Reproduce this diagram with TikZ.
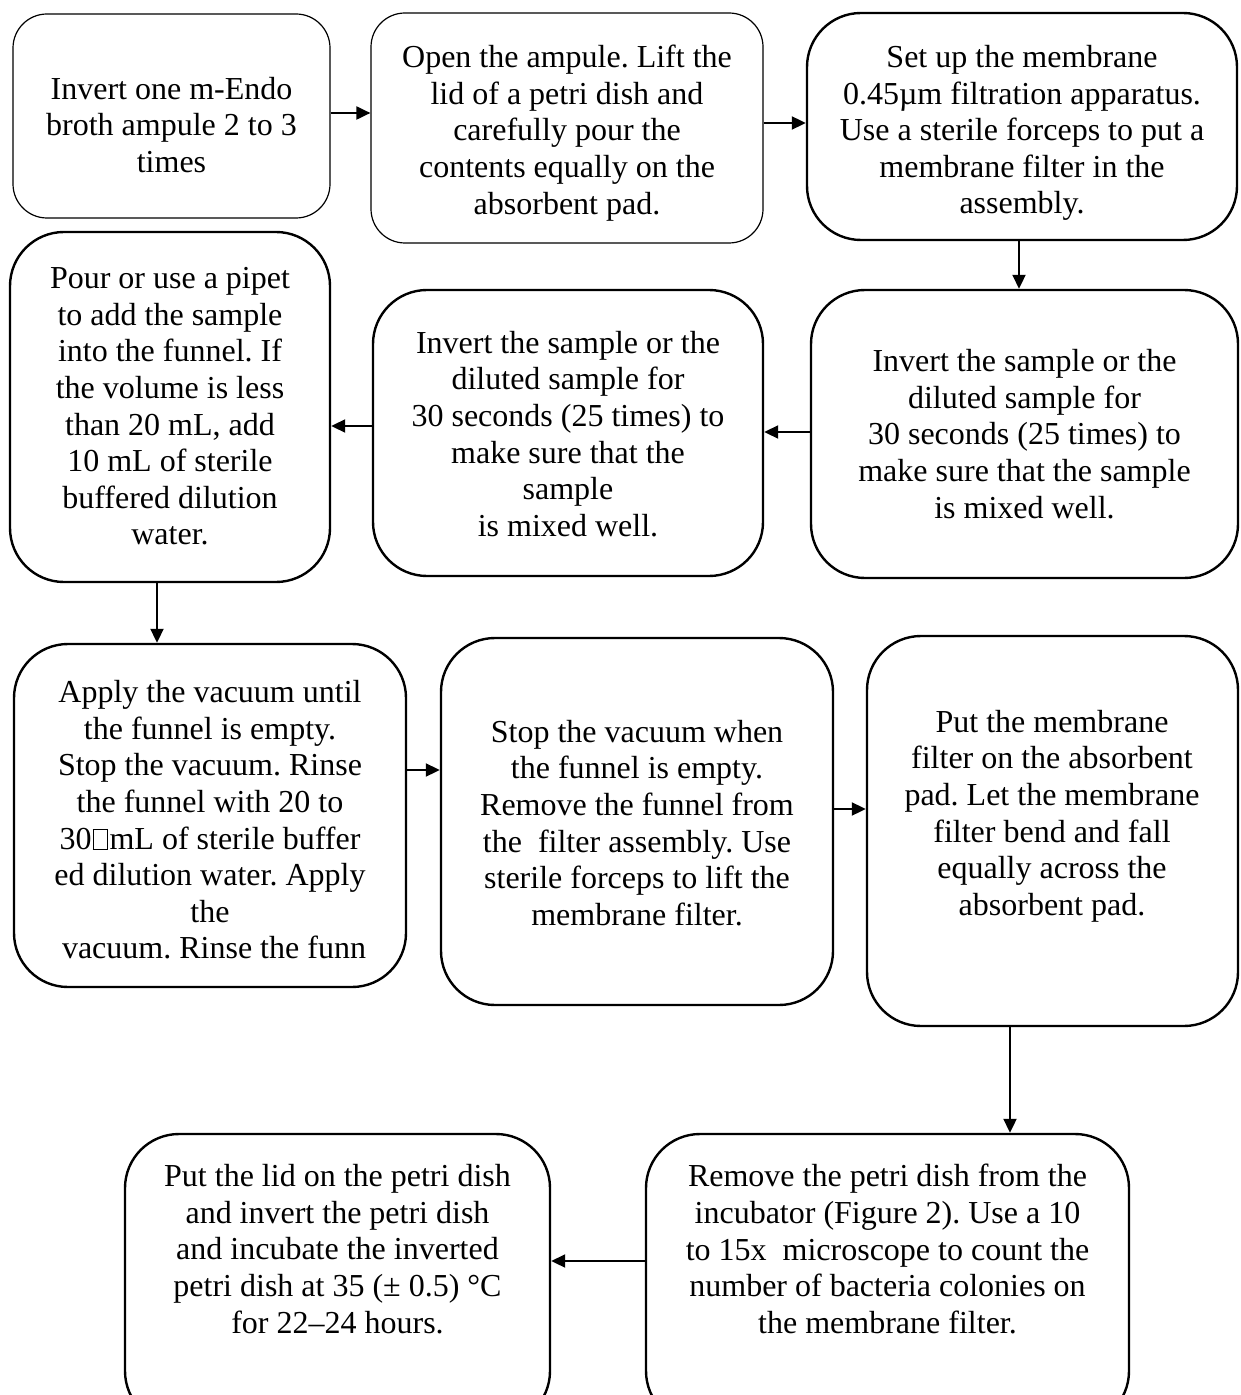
\documentclass[tikz,border=0pt]{standalone}
\usepackage{fontspec}
\setmainfont{Liberation Serif}
\usetikzlibrary{arrows.meta,fit}
\frenchspacing
\newcommand\gapbox{{\fboxsep=0pt\fboxrule=0.4pt\kern0.5pt\fbox{\rule{0pt}{0.62em}\hspace{0.42em}}\kern1pt}}
\begin{document}
\begin{tikzpicture}[x=0.5pt,y=-0.5pt,
  thinbox/.style={draw, line width=0.6pt, rounded corners=17pt, inner sep=0pt},
  thickbox/.style={draw, line width=1.2pt, rounded corners=27pt, inner sep=0pt},
  txt/.style={align=center, inner sep=0pt, font=\fontsize{16pt}{18.3pt}\selectfont\frenchspacing},
  arr/.style={line width=1pt, -{Triangle[length=7pt,width=6.5pt]}}]
\useasboundingbox (0,0) rectangle (1240,1395);

% boxes
\node[thinbox, fit={(13,14)(330,218)}] (A) {};
\node[thinbox, fit={(371,13)(763,243)}] (B) {};
\node[thickbox, fit={(807,13)(1237,240)}] (C) {};
\node[thickbox, fit={(811,290)(1238,578)}] (D) {};
\node[thickbox, fit={(373,290)(763,576)}] (E) {};
\node[thickbox, fit={(10,232)(330,582)}] (F) {};
\node[thickbox, fit={(14,644)(406,987)}] (G) {};
\node[thickbox, fit={(441,638)(833,1005)}] (H) {};
\node[thickbox, fit={(867,636)(1238,1026)}] (I) {};
\node[thickbox, fit={(646,1134)(1129,1425)}] (J) {};
\node[thickbox, fit={(125,1134)(550,1425)}] (K) {};

% texts
\node[txt] (tA) at (171.5,125) {Invert one m-Endo\\broth ampule 2 to 3\\times};
\node[txt] (tB) at (567,133) {Open the ampule. Lift the\\lid of a petri dish and\\carefully pour the\\contents equally on the\\absorbent pad.};
\node[txt] (tC) at (1022,133) {Set up the membrane\\0.45µm filtration apparatus.\\Use a sterile forceps to put a\\membrane filter in the\\assembly.};
\node[txt] (tD) at (1024.5,434) {Invert the sample or the\\diluted sample for\\30 seconds (25 times) to\\make sure that the sample\\is mixed well.};
\node[txt] (tE) at (568,434) {Invert the sample or the\\diluted sample for\\30 seconds (25 times) to\\make sure that the\\sample\\is mixed well.};
\node[txt] (tF) at (170,406.5) {Pour or use a pipet\\to add the sample\\into the funnel. If\\the volume is less\\than 20 mL, add\\10 mL of sterile\\buffered dilution\\water.};
\node[txt] (tG) at (210,820) {Apply the vacuum until\\the funnel is empty.\\Stop the vacuum. Rinse\\the funnel with 20 to\\30\gapbox mL of sterile buffer\\ed dilution water. Apply\\the\\\ vacuum. Rinse the funn};
\node[txt] (tH) at (637,823) {Stop the vacuum when\\the funnel is empty.\\Remove the funnel from\\the\ \ filter assembly. Use\\sterile forceps to lift the\\membrane filter.};
\node[txt] (tI) at (1052,816) {Put the membrane\\filter on the absorbent\\pad. Let the membrane\\filter bend and fall\\equally across the\\absorbent pad.};
\node[txt] (tJ) at (887.5,1249) {Remove the petri dish from the\\incubator (Figure 2). Use a 10\\to 15x\ \ microscope to count the\\number of bacteria colonies on\\the membrane filter.};
\node[txt] (tK) at (337.5,1249) {Put the lid on the petri dish\\and invert the petri dish\\and incubate the inverted\\petri dish at 35 (± 0.5) °C\\for 22–24 hours.};

% connectors
\draw[arr] (A.east |- 0,113) -- (B.west |- 0,113);
\draw[arr] (B.east |- 0,123) -- (C.west |- 0,123);
\draw[arr] (C.south -| 1019,0) -- (D.north -| 1019,0);
\draw[arr] (D.west |- 0,432) -- (E.east |- 0,432);
\draw[arr] (E.west |- 0,426) -- (F.east |- 0,426);
\draw[arr] (F.south -| 157,0) -- (G.north -| 157,0);
\draw[arr] (G.east |- 0,770) -- (H.west |- 0,770);
\draw[arr] (H.east |- 0,809) -- (I.west |- 0,809);
\draw[arr] (I.south -| 1010,0) -- (J.north -| 1010,0);
\draw[arr] (J.west |- 0,1261) -- (K.east |- 0,1261);
\end{tikzpicture}
\end{document}
